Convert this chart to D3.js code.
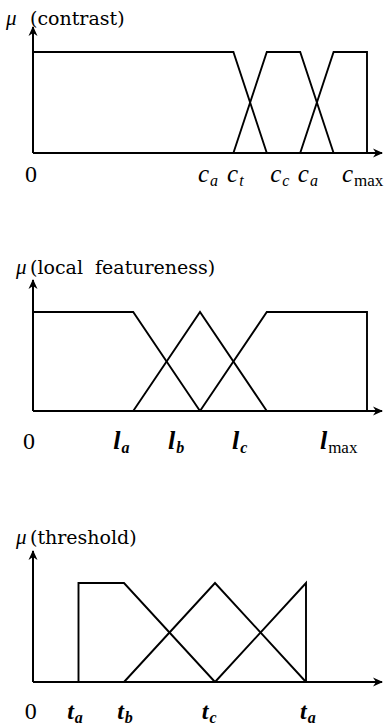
<!DOCTYPE html>
<html>
<head>
<meta charset="utf-8">
<script src="https://cdn.jsdelivr.net/npm/d3@7"></script>
<style>
  html, body { margin: 0; padding: 0; background: #fff; }
  svg { display: block; }
</style>
</head>
<body>
<div class="chart"></div>
<script>
// membership functions, x in arbitrary units, mu in [0,1]
const contrastLow = [[0, 1], [6, 1], [7, 0]];
const contrastMid = [[6, 0], [7, 1], [8, 1], [9, 0]];
const contrastHigh = [[8, 0], [9, 1], [10, 1], [10, 0]];
const contrastTickValues = [-0.24, 4.94, 5.81, 7.1, 7.93, 9.25];
const contrastTickLabels = [["0", ""], ["c", "a"], ["c", "t"], ["c", "c"], ["c", "a"], ["c", "max"]];

const localLow = [[0, 1], [3, 1], [5, 0]];
const localMid = [[3, 0], [5, 1], [7, 0]];
const localHigh = [[5, 0], [7, 1], [10, 1], [10, 0]];
const localTickValues = [-0.3, 2.4, 4.04, 5.96, 8.59];
const localTickLabels = [["0", ""], ["l", "a"], ["l", "b"], ["l", "c"], ["l", "max"]];

const thresholdLow = [[1, 0], [1, 1], [2, 1], [4, 0]];
const thresholdMid = [[2, 0], [4, 1], [6, 0]];
const thresholdHigh = [[4, 0], [6, 1], [6, 0]];
const thresholdTickValues = [-0.18, 0.75, 1.85, 3.71, 5.87];
const thresholdTickLabels = [["0", ""], ["t", "a"], ["t", "b"], ["t", "c"], ["t", "a"]];

const width = 384;
const height = 727;
const serif = "'Liberation Serif', 'DejaVu Serif', serif";
const wideSerif = "'DejaVu Serif', 'Liberation Serif', serif";

const svg = d3.select(".chart")
  .append("svg")
  .attr("width", width)
  .attr("height", height);

svg.append("rect")
  .attr("width", width)
  .attr("height", height)
  .attr("fill", "#fff");

svg.append("defs").append("marker")
  .attr("id", "arrow")
  .attr("viewBox", "0 -5 10 10")
  .attr("refX", 9)
  .attr("refY", 0)
  .attr("markerUnits", "userSpaceOnUse")
  .attr("markerWidth", 10)
  .attr("markerHeight", 10)
  .attr("orient", "auto")
  .append("path")
  .attr("d", "M0,-4.5L10,0L0,4.5L3,0Z")
  .attr("fill", "#000");

const panels = [
  {
    name: "(contrast)", xMax: 10, xRange: [33, 367], yRange: [153, 52],
    yTip: 27, titleY: 25, muX: 6, titleX: 30, labelY: 182,
    mainSize: 25, subSize: 16, weight: 400,
    series: [contrastLow, contrastMid, contrastHigh],
    ticks: contrastTickValues, labels: contrastTickLabels
  },
  {
    name: "(local  featureness)", xMax: 10, xRange: [33, 367], yRange: [411, 312],
    yTip: 280, titleY: 274, muX: 16, titleX: 30, labelY: 449,
    mainSize: 26, subSize: 16, weight: 600,
    series: [localLow, localMid, localHigh],
    ticks: localTickValues, labels: localTickLabels
  },
  {
    name: "(threshold)", xMax: 6, xRange: [33, 306], yRange: [682, 583],
    yTip: 551, titleY: 544, muX: 16, titleX: 30, labelY: 719,
    mainSize: 24, subSize: 16, weight: 700,
    series: [thresholdLow, thresholdMid, thresholdHigh],
    ticks: thresholdTickValues, labels: thresholdTickLabels
  }
];

panels.forEach(p => {
  const x = d3.scaleLinear().domain([0, p.xMax]).range(p.xRange);
  const y = d3.scaleLinear().domain([0, 1]).range(p.yRange);
  const g = svg.append("g");

  const line = d3.line()
    .x(d => x(d[0]))
    .y(d => y(d[1]));

  // axes with arrowheads
  g.append("line")
    .attr("x1", x(0)).attr("y1", y(0))
    .attr("x2", width - 2).attr("y2", y(0))
    .attr("stroke", "#000").attr("stroke-width", 2)
    .attr("marker-end", "url(#arrow)");

  g.append("line")
    .attr("x1", x(0)).attr("y1", y(0))
    .attr("x2", x(0)).attr("y2", p.yTip)
    .attr("stroke", "#000").attr("stroke-width", 2)
    .attr("marker-end", "url(#arrow)");

  g.selectAll("path.mf")
    .data(p.series)
    .enter()
    .append("path")
    .attr("class", "mf")
    .attr("d", line)
    .attr("fill", "none")
    .attr("stroke", "#000")
    .attr("stroke-width", 1.9)
    .attr("stroke-linejoin", "miter");

  // title: mu (...)
  const title = g.append("text")
    .attr("x", p.muX)
    .attr("y", p.titleY)
    .attr("fill", "#000");
  title.append("tspan")
    .attr("font-family", serif)
    .attr("font-style", "italic")
    .attr("font-size", 21)
    .text("μ");
  title.append("tspan")
    .attr("x", p.titleX)
    .attr("font-family", wideSerif)
    .attr("font-size", 19)
    .style("white-space", "pre")
    .text(p.name);

  // tick labels
  const labels = g.selectAll("text.tick")
    .data(p.ticks.map((v, i) => ({ v, main: p.labels[i][0], sub: p.labels[i][1] })))
    .enter()
    .append("text")
    .attr("class", "tick")
    .attr("x", d => x(d.v))
    .attr("y", p.labelY)
    .attr("fill", "#000")
    .attr("font-family", serif);

  labels.append("tspan")
    .attr("font-size", d => d.main === "0" ? 24 : p.mainSize)
    .attr("font-style", d => d.main === "0" ? "normal" : "italic")
    .attr("font-weight", d => d.main === "0" ? 400 : p.weight)
    .text(d => d.main);

  labels.filter(d => d.sub !== "")
    .append("tspan")
    .attr("dx", 1)
    .attr("dy", 4)
    .attr("font-size", d => d.sub === "max" ? 17 : p.subSize)
    .attr("font-style", d => d.sub === "max" ? "normal" : "italic")
    .attr("font-weight", d => d.sub === "max" ? 400 : p.weight)
    .text(d => d.sub);
});
</script>
</body>
</html>
